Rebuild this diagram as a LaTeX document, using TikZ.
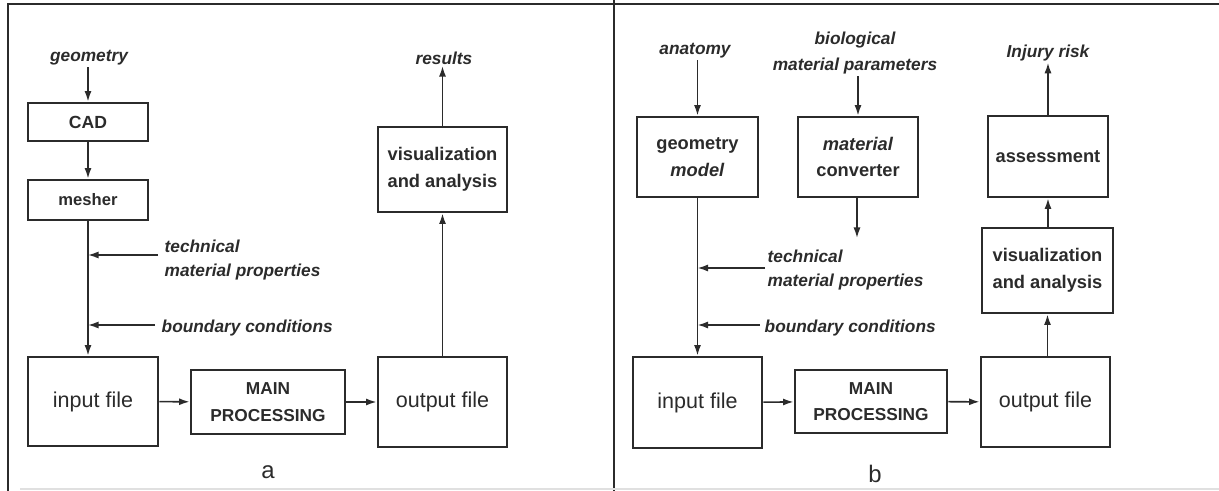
\documentclass[tikz,border=0pt]{standalone}
\usepackage{fontspec}
\setmainfont{Liberation Sans}
\usetikzlibrary{arrows.meta}
\definecolor{ink}{HTML}{2B2B2B}
\tikzset{
  box/.style={draw=ink, line width=2pt, inner sep=0pt, align=center, text=ink},
  lbl/.style={font=\bfseries\itshape\fontsize{12.3}{17}\selectfont, align=left, inner sep=1pt, text=ink},
  arr/.style={draw=ink, line width=1.1pt, -{Latex[length=7.5pt,width=5pt]}},
  frame/.style={draw=ink, line width=2pt},
  big/.style={font=\fontsize{15.3}{18}\selectfont},
  mid/.style={font=\bfseries\fontsize{13}{19}\selectfont},
  main/.style={font=\bfseries\fontsize{12.3}{19}\selectfont},
}
\begin{document}
\begin{tikzpicture}[x=0.025cm, y=-0.025cm]
    \useasboundingbox (0,0) rectangle (1219,491);

    % Draw frame
    \draw[frame] (8,491) -- (8,4) -- (1219,4);
    \draw[frame] (614,0) -- (614,491);
    \draw[black!12, line width=1pt] (20,489) -- (1219,489);

    % Panel a: boxes
    \node[box, minimum width=3cm, minimum height=0.95cm, font=\bfseries\fontsize{12.5}{15}\selectfont] (cad) at (88,122) {CAD};
    \node[box, minimum width=3cm, minimum height=1cm, font=\bfseries\fontsize{11.8}{15}\selectfont] (mesher) at (88,200) {mesher};
    \node[box, big, minimum width=3.25cm, minimum height=2.225cm] (inputa) at (93,401.5) {input file};
    \node[box, main, minimum width=3.85cm, minimum height=1.6cm] (maina) at (268,402) {MAIN\\PROCESSING};
    \node[box, big, minimum width=3.225cm, minimum height=2.25cm] (outputa) at (442.5,402) {output file};
    \node[box, mid, minimum width=3.225cm, minimum height=2.125cm] (visa) at (442.5,169.5) {visualization\\and analysis};

    % Panel a: labels
    \node[lbl] (geometry) at (89,58) {geometry};
    \node[lbl] (results) at (444,58) {results};
    \node[lbl, anchor=west] (techa) at (163,260) {technical\\material properties};
    \node[lbl, anchor=west] (bounda) at (160,328) {boundary conditions};
    \node[font=\fontsize{17}{20}\selectfont, text=ink] (capa) at (268,472) {a};

    % Panel a: connectors
    \coordinate (techa in) at (158,255);
    \coordinate (bounda in) at (155,325);
    \draw[arr] (geometry.south -| cad) -- (cad.north);
    \draw[arr] (cad) -- (mesher);
    \draw[arr] (mesher.south) -- (mesher.south |- inputa.north);
    \draw[arr] (techa in) -- (techa in -| mesher.south);
    \draw[arr] (bounda in) -- (bounda in -| mesher.south);
    \draw[arr] (inputa) -- (maina);
    \draw[arr] (maina) -- (outputa);
    \draw[arr] (outputa.north -| visa) -- (visa.south);
    \draw[arr] (visa.north) -- (visa.north |- results.south);

    % Panel b: boxes
    \node[box, mid, minimum width=3.025cm, minimum height=2cm] (geomodel) at (697.5,157) {geometry\\\textit{model}};
    \node[box, mid, minimum width=3cm, minimum height=2cm] (converter) at (858,157) {\textit{material}\\converter};
    \node[box, mid, minimum width=3cm, minimum height=2.025cm] (assess) at (1048,156.5) {assessment};
    \node[box, mid, minimum width=3.275cm, minimum height=2.125cm] (visb) at (1047.5,270.5) {visualization\\and analysis};
    \node[box, big, minimum width=3.225cm, minimum height=2.275cm] (inputb) at (697.5,402.5) {input file};
    \node[box, main, minimum width=3.8cm, minimum height=1.575cm] (mainb) at (871,401.5) {MAIN\\PROCESSING};
    \node[box, big, minimum width=3.225cm, minimum height=2.25cm] (outputb) at (1045.5,402) {output file};

    % Panel b: labels
    \node[lbl] (anatomy) at (695,51) {anatomy};
    \node[lbl, align=center, font=\bfseries\itshape\fontsize{12.3}{19}\selectfont] (biomat) at (855,53) {biological\\material parameters};
    \node[lbl] (injury) at (1048,53) {Injury risk};
    \node[lbl, anchor=west] (techb) at (766,270) {technical\\material properties};
    \node[lbl, anchor=west] (boundb) at (763,328) {boundary conditions};
    \node[font=\fontsize{17}{20}\selectfont, text=ink] (capb) at (875,474) {b};

    % Panel b: connectors
    \coordinate (conv out) at (857,238);
    \coordinate (techb in) at (765,268);
    \coordinate (boundb in) at (760,325);
    \draw[arr] (anatomy.south -| geomodel) -- (geomodel.north);
    \draw[arr] (biomat.south -| converter) -- (converter.north);
    \draw[arr] (converter.south -| conv out) -- (conv out);
    \draw[arr] (geomodel.south) -- (geomodel.south |- inputb.north);
    \draw[arr] (techb in) -- (techb in -| geomodel.south);
    \draw[arr] (boundb in) -- (boundb in -| geomodel.south);
    \draw[arr] (inputb) -- (mainb);
    \draw[arr] (mainb) -- (outputb);
    \draw[arr] (outputb.north -| visb) -- (visb.south);
    \draw[arr] (visb.north -| assess) -- (assess.south);
    \draw[arr] (assess.north) -- (assess.north |- injury.south);
\end{tikzpicture}
\end{document}
